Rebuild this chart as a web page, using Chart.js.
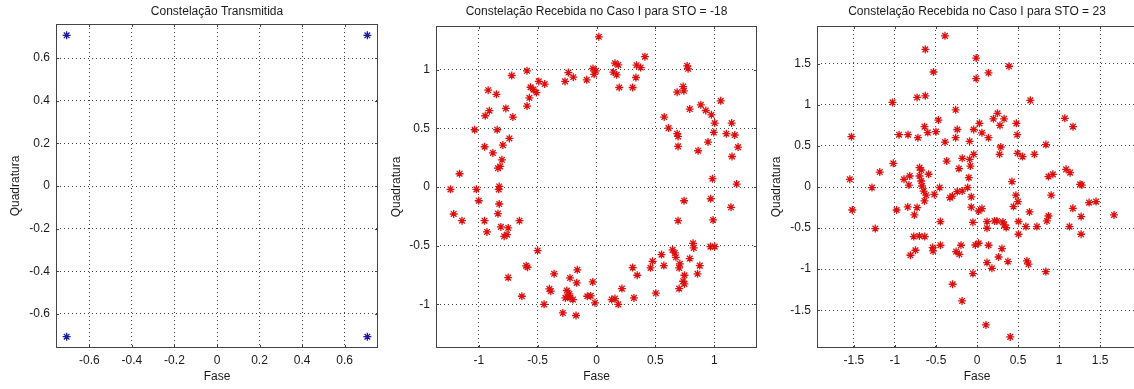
<!DOCTYPE html>
<html><head><meta charset="utf-8">
<script src="https://cdn.jsdelivr.net/npm/chart.js@4/dist/chart.umd.min.js"></script>
<style>
html,body{margin:0;padding:0;background:#fff;width:1134px;height:389px;overflow:hidden;position:relative;}
canvas{position:absolute;top:0;}
</style></head><body>
<canvas id="c1" width="390" height="389" style="left:0px"></canvas>
<canvas id="c2" width="380" height="389" style="left:385px"></canvas>
<canvas id="c3" width="380" height="389" style="left:765px"></canvas>
<script>
// ---- titles / labels ----
const titles = ["Constelação Transmitida", "Constelação Recebida no Caso I para STO = -18", "Constelação Recebida no Caso I para STO = 23"];
const xLabel = "Fase";
const yLabel = "Quadratura";

// ---- tick labels ----
const ticks1 = [-0.6, -0.4, -0.2, 0, 0.2, 0.4, 0.6];
const ticks2 = [-1, -0.5, 0, 0.5, 1];
const ticks3 = [-1.5, -1, -0.5, 0, 0.5, 1, 1.5];

// ---- series: transmitted constellation ----
const tx = [-0.707, 0.707, -0.707, 0.707];
const ty = [0.707, 0.707, -0.707, -0.707];

// ---- series: received, STO = -18 ----
const r1x = [0.02,-0.59,-0.72,-0.92,-0.85,-0.56,-0.535,-0.49,-0.44,-0.51,-0.57,-0.59,-0.77,-0.71,-0.91,-0.945,-1.035,-0.843,-0.74,-0.795,-0.95,-0.88,-0.803,-0.818,-0.837,-1.163,-0.826,-0.83,-1.24,-1.02,-0.267,-0.239,-0.197,-0.083,-0.03,-0.005,-0.02,
 -1.0,-0.826,-1.213,-1.142,-0.837,-0.951,-0.654,-0.93,-0.812,-0.75,-0.76,-0.784,-0.5,-0.597,-0.586,-0.75,-0.634,-0.445,-0.286,-0.174,-0.36,-0.4,-0.388,-0.225,-0.163,-0.168,-0.252,-0.23,-0.247,-0.2,-0.225,-0.264,-0.032,-0.078,-0.049,-0.013,
 1.19,0.744,0.97,1.142,0.693,0.99,0.82,0.826,0.968,1.004,0.646,0.665,0.674,0.552,0.792,0.476,0.708,0.702,0.572,0.459,0.877,0.858,0.307,0.346,0.747,0.736,0.747,0.702,0.216,0.504,0.318,0.129,0.157,0.185,
 0.157,0.185,0.143,0.171,0.193,0.307,0.335,0.34,0.375,0.411,0.77,0.778,0.736,0.685,0.742,0.792,1.055,0.886,0.928,0.976,1.004,0.996,1.148,1.103,1.174,1.202,1.151,0.575,0.612,0.685,0.693,0.693,0.947,0.863,0.985];
const r1y = [1.28,0.99,0.95,0.825,0.79,0.85,0.83,0.90,0.877,0.805,0.76,0.69,0.67,0.596,0.65,0.607,0.488,0.488,0.414,0.357,0.343,0.29,0.232,0.175,0.16,0.113,0.005,-0.02,-0.02,-0.02,0.90,0.975,0.936,0.913,1.01,0.99,0.96,
 -0.117,-0.145,-0.23,-0.287,-0.227,-0.287,-0.287,-0.383,-0.34,-0.349,-0.406,-0.42,-0.542,-0.672,-0.684,-0.772,-0.931,-1.0,-1.073,-1.095,-0.74,-0.868,-0.888,-0.775,-0.706,-0.817,-0.882,-0.91,-0.933,-0.959,-0.945,-0.945,-0.809,-0.931,-0.928,-0.987,
 0.025,-0.117,-0.1,-0.173,-0.287,-0.281,-0.48,-0.519,-0.508,-0.508,-0.536,-0.562,-0.599,-0.576,-0.61,-0.633,-0.655,-0.689,-0.67,-0.689,-0.67,-0.74,-0.687,-0.752,-0.752,-0.803,-0.826,-0.866,-0.866,-0.905,-0.945,-0.959,-0.951,-1.0,
 1.055,1.04,0.979,0.956,0.848,0.848,0.933,1.038,1.018,1.111,1.032,1.007,0.856,0.808,0.82,0.664,0.734,0.70,0.652,0.615,0.545,0.465,0.545,0.454,0.443,0.34,0.26,0.596,0.502,0.454,0.431,0.346,0.383,0.309,0.071];

// ---- series: received, STO = 23 ----
const r2x = [-0.39,-0.63,-0.53,-0.01,-0.01,0.14,0.39,-0.73,-0.63,-1.03,0.65,
 -0.26,-0.47,-0.64,-0.60,-0.50,-0.24,-0.95,-0.84,-0.72,-0.26,-0.09,-0.39,-0.04,0.03,0.06,0.14,0.20,0.25,0.33,0.28,0.48,0.49,1.07,1.17,0.84,0.29,0.275,0.494,0.555,0.70,-1.53,
 -0.37,-1.02,-0.18,-0.09,-0.04,-0.08,-0.22,-1.185,-0.70,-0.68,-0.70,-0.68,-0.67,-0.65,-0.59,-1.55,-1.28,-0.82,-0.89,-0.83,-0.455,-0.10,-0.114,0.426,0.871,0.925,1.086,1.135,1.257,1.277,-0.52,-0.62,-0.64,-0.33,-0.30,-0.24,-0.18,-0.07,-0.07,-0.05,
 0.904,0.474,0.499,0.445,0.64,0.871,0.852,1.168,1.366,1.451,1.67,1.269,1.127,1.269,0.506,0.596,0.73,0.506,0.316,0.243,0.214,0.332,0.356,0.122,0.122,0.02,0.06,
 -0.02,0.02,0.141,0.304,0.263,0.377,0.122,0.182,0.608,0.628,0.839,-0.05,0.109,0.405,
 -1.52,-1.24,-0.98,-0.844,-0.73,-0.763,-0.446,-0.771,-0.702,-0.637,-0.811,-0.75,-0.54,-0.535,-0.446,-0.195,-0.255,-0.215,-0.297,-0.182];
const r2y = [1.84,1.675,1.40,1.57,1.32,1.39,1.47,1.09,1.11,1.03,1.055,
 0.94,0.815,0.735,0.662,0.674,0.70,0.637,0.637,0.60,0.60,0.556,0.547,0.70,0.775,0.66,0.60,0.83,0.897,0.83,0.75,0.775,0.637,0.836,0.735,0.516,0.487,0.398,0.41,0.37,0.398,0.613,
 0.316,0.288,0.349,0.337,0.398,0.255,0.224,0.182,0.236,0.207,0.134,0.073,0.012,-0.049,0.155,0.094,-0.007,0.134,0.094,0.024,-0.007,0.114,-0.007,0.066,0.127,0.154,0.215,0.175,0.033,0.024,-0.09,-0.10,-0.17,-0.13,-0.11,-0.056,-0.049,-0.12,-0.245,-0.43,
 -0.1,-0.1,-0.178,-0.238,-0.304,-0.353,-0.413,-0.26,-0.19,-0.178,-0.34,-0.36,-0.482,-0.575,-0.42,-0.482,-0.482,-0.575,-0.426,-0.413,-0.413,-0.462,-0.494,-0.421,-0.502,-0.292,-0.263,
 -0.706,-0.685,-0.709,-0.75,-0.852,-0.908,-0.92,-0.99,-0.9,-0.94,-1.03,-1.054,-1.679,-1.825,
 -0.28,-0.506,-0.28,-0.243,-0.251,-0.34,-0.421,-0.603,-0.596,-0.603,-0.831,-0.77,-0.737,-0.778,-0.709,-0.709,-0.786,-0.819,-1.184,-1.387];

const FONT = "'Liberation Sans', Arial, sans-serif";

const boxPlugin = {
  id: 'box',
  afterDraw(chart, args, opts) {
    const {ctx, chartArea: a} = chart;
    ctx.save();
    // title centred over the plot box (MATLAB style)
    ctx.fillStyle = '#1a1a1a';
    ctx.font = "12px " + FONT;
    ctx.textAlign = 'center';
    ctx.textBaseline = 'middle';
    ctx.fillText(opts.title, (a.left + a.right) / 2, 11.5);
    // box
    ctx.strokeStyle = '#444';
    ctx.lineWidth = 1;
    ctx.strokeRect(Math.round(a.left) + 0.5, Math.round(a.top) + 0.5, Math.round(a.right - a.left) - 1, Math.round(a.bottom - a.top) - 1);
    // inward tick marks
    const xs = chart.scales.x, ys = chart.scales.y;
    ctx.beginPath();
    xs.ticks.forEach(t => {
      const px = Math.round(xs.getPixelForValue(t.value)) + 0.5;
      ctx.moveTo(px, a.bottom); ctx.lineTo(px, a.bottom - 3);
      ctx.moveTo(px, a.top); ctx.lineTo(px, a.top + 3);
    });
    ys.ticks.forEach(t => {
      const py = Math.round(ys.getPixelForValue(t.value)) + 0.5;
      ctx.moveTo(a.left, py); ctx.lineTo(a.left + 3, py);
      ctx.moveTo(a.right, py); ctx.lineTo(a.right - 3, py);
    });
    ctx.stroke();
    ctx.restore();
  }
};

function makeChart(id, title, xs, ys, color, xr, yr, tickVals, cfg) {
  const pts = xs.map((v, i) => ({x: v, y: ys[i]}));
  const axis = (range, isX) => ({
    type: 'linear',
    min: -range, max: range,
    afterBuildTicks: s => { s.ticks = tickVals.map(v => ({value: v})); },
    afterFit: s => { if (isX) s.height = 41; else s.width = cfg.yW; },
    grid: {color: 'rgba(0,0,0,0.75)', lineWidth: 1, drawTicks: false},
    border: {display: false, dash: [1, 3]},
    ticks: {
      color: '#1a1a1a', font: {family: FONT, size: 12}, padding: isX ? 5 : 6,
      maxRotation: 0, autoSkip: false,
      callback: v => String(v)
    },
    title: {
      display: true, text: isX ? xLabel : yLabel, color: '#1a1a1a',
      font: {family: FONT, size: 12},
      padding: isX ? {top: 0, bottom: 5} : {top: cfg.yTitlePad, bottom: 0}
    }
  });
  return new Chart(document.getElementById(id), {
    type: 'scatter',
    data: {datasets: [{
      data: pts, pointStyle: 'star', pointRadius: 4, pointHoverRadius: 4,
      borderColor: color, backgroundColor: color, borderWidth: 1.3
    }]},
    options: {
      responsive: false, animation: false, devicePixelRatio: 1,
      layout: {padding: {left: 0, right: cfg.padR, top: cfg.top, bottom: 0}},
      scales: {x: axis(xr, true), y: axis(yr, false)},
      plugins: {
        legend: {display: false}, tooltip: {enabled: false},
        title: {display: false},
        box: {title: title}
      }
    },
    plugins: [boxPlugin]
  });
}

makeChart('c1', titles[0], tx, ty, '#1a1aa0', 0.757, 0.76, ticks1, {yW: 56, padR: 12, top: 24, yTitlePad: 8});
makeChart('c2', titles[1], r1x, r1y, '#dd1010', 1.363, 1.372, ticks2, {yW: 51, padR: 8, top: 26, yTitlePad: 4.5});
makeChart('c3', titles[2], r2x, r2y, '#dd1010', 1.95, 1.96, ticks3, {yW: 52, padR: 8, top: 26, yTitlePad: 4});
</script>
</body></html>
